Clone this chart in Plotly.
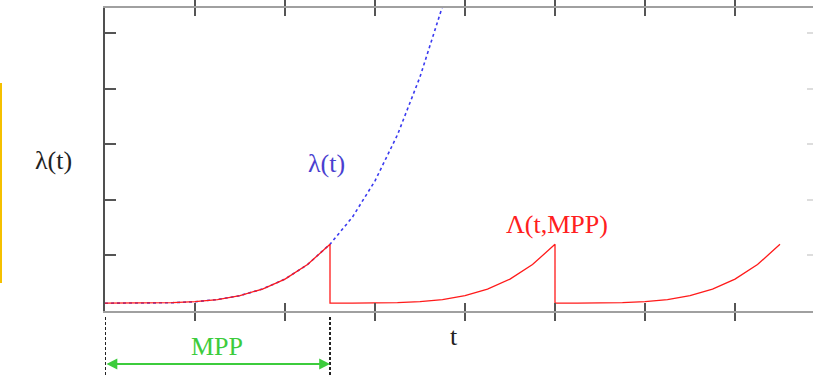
import plotly.graph_objects as go

# ---- data (x: 1 unit = one tick interval) ----
blue_t = [0, 0.25, 0.5, 0.75, 1.0, 1.25, 1.5, 1.75, 2.0, 2.25, 2.5, 2.75, 3.0, 3.25, 3.5, 3.75]
blue_v = [0.14, 0.14, 0.142, 0.149, 0.167, 0.206, 0.277, 0.395, 0.574, 0.835, 1.20, 1.69, 2.34, 3.17, 4.21, 5.48]

red_t = [0, 0.25, 0.5, 0.75, 1.0, 1.25, 1.5, 1.75, 2.0, 2.25, 2.5,
         2.5, 2.75, 3.0, 3.25, 3.5, 3.75, 4.0, 4.25, 4.5, 4.75, 5.0,
         5.0, 5.25, 5.5, 5.75, 6.0, 6.25, 6.5, 6.75, 7.0, 7.25, 7.5]
red_v = [0.14, 0.14, 0.142, 0.149, 0.167, 0.206, 0.277, 0.395, 0.574, 0.835, 1.20,
         0.14, 0.14, 0.142, 0.149, 0.167, 0.206, 0.277, 0.395, 0.574, 0.835, 1.20,
         0.14, 0.14, 0.142, 0.149, 0.167, 0.206, 0.277, 0.395, 0.574, 0.835, 1.20]

mpp = 2.5
x_ticks = [0, 1, 2, 3, 4, 5, 6, 7]
y_ticks = [0, 1, 2, 3, 4, 5]

SERIF = "Liberation Serif"
FS = 26

fig = go.Figure()
fig.add_trace(go.Scatter(x=blue_t, y=blue_v, mode="lines",
                         line=dict(color="#3a3af0", width=1.6, dash="dot"),
                         showlegend=False, hoverinfo="skip"))
fig.add_trace(go.Scatter(x=red_t, y=red_v, mode="lines",
                         line=dict(color="#ff1a1a", width=1.3),
                         showlegend=False, hoverinfo="skip"))
# invisible trace for the faint right-side ticks
fig.add_trace(go.Scatter(x=[0], y=[0], yaxis="y2", mode="markers",
                         marker=dict(opacity=0), showlegend=False, hoverinfo="skip"))

xr = [0, 708 / 90]
yr = [0, 303 / 55.6]

fig.update_layout(
    width=813, height=377,
    margin=dict(l=105, r=0, t=8, b=66),
    paper_bgcolor="white", plot_bgcolor="white",
    xaxis=dict(range=xr, tickvals=x_ticks, showticklabels=False,
               ticks="inside", ticklen=8, tickwidth=2, tickcolor="#555",
               showline=True, linecolor="#a0a0a0", linewidth=2, mirror="allticks",
               showgrid=False, zeroline=False, fixedrange=True),
    yaxis=dict(range=yr, tickvals=y_ticks, showticklabels=False,
               ticks="inside", ticklen=11, tickwidth=2, tickcolor="#555",
               showline=True, linecolor="#505050", linewidth=2,
               showgrid=False, zeroline=False, fixedrange=True),
    yaxis2=dict(range=yr, tickvals=y_ticks, showticklabels=False, overlaying="y",
                side="right", ticks="inside", ticklen=6, tickwidth=1.5,
                tickcolor="#dddddd", showline=False, showgrid=False, zeroline=False,
                fixedrange=True),
    font=dict(family=SERIF),
)

def label(text, x, y, color, xref="x", yref="y"):
    fig.add_annotation(text=text, x=x, y=y, xref=xref, yref=yref,
                       xanchor="center", yanchor="middle", showarrow=False,
                       font=dict(family=SERIF, size=FS, color=color))

# text labels
label("λ(t)", (53 - 105) / 708, (311 - 160) / 303, "#222", "paper", "paper")
label("λ(t)", (326 - 105) / 90, (311 - 163) / 55.6, "#4a3fd0")
label("Λ(t,MPP)", (557 - 105) / 90, (311 - 224) / 55.6, "#ff2020")
label("t", (454 - 105) / 90, (311 - 336) / 303, "#222", "x", "paper")
label("MPP", (217 - 105) / 90, (311 - 346) / 303, "#3ccc3c", "x", "paper")

# double arrow for MPP
fig.add_annotation(x=mpp, y=(311 - 364) / 303, xref="x", yref="paper",
                   ax=0, ay=0, axref="x", ayref="pixel",
                   text="", showarrow=True, arrowside="end+start",
                   arrowhead=2, arrowsize=1.2, arrowwidth=1.8, arrowcolor="#3ccc3c")

# dashed marker lines below the axis
for xv in [0, mpp]:
    fig.add_shape(type="line", xref="x", yref="paper", x0=xv, x1=xv,
                  y0=(311 - 317) / 303, y1=(311 - 377) / 303,
                  line=dict(color="#222", width=2, dash="3px,2px"))

# gold bar at the left edge
fig.add_shape(type="line", xref="paper", yref="paper", x0=-104 / 708, x1=-104 / 708,
              y0=(311 - 83) / 303, y1=(311 - 283) / 303,
              line=dict(color="#f5c000", width=2))

fig.write_html("out.html", config={"displayModeBar": False},
               post_script="document.body.style.margin='0';document.body.style.overflow='hidden';")
